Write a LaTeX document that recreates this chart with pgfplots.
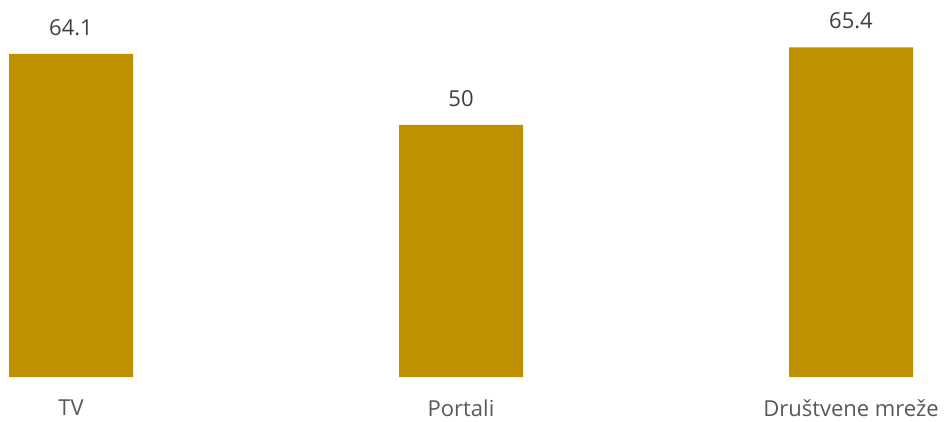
\documentclass[border=0pt]{standalone}
\usepackage{fontspec}
\setmainfont{Open Sans}
\usepackage{pgfplots}
\pgfplotsset{compat=1.18}
\definecolor{bargold}{HTML}{BF9000}
\definecolor{valgray}{HTML}{404040}
\definecolor{catgray}{HTML}{595959}
\begin{document}
\begin{tikzpicture}
\begin{axis}[
    scale only axis,
    width=946bp, height=377bp,
    xmin=0, xmax=946,
    ymin=0, ymax=74.8,
    axis line style={draw=none},
    ytick=\empty,
    xtick=data,
    xticklabels={TV, Portali, Društvene mreže},
    major tick length=0pt,
    /pgf/number format/assume math mode=true,
    x tick label style={font=\fontsize{22bp}{24bp}\selectfont, text=catgray, yshift=-19bp},
    ybar,
    bar width=124bp,
    nodes near coords,
    every node near coord/.append style={font=\fontsize{22bp}{24bp}\selectfont, text=valgray, yshift=15bp},
    clip=false,
]
\addplot[fill=bargold, draw=none] coordinates {(71,64.1) (461,50) (851,65.4)};
\end{axis}
\pgfresetboundingbox
\path (0,-45bp) rectangle (946bp,377bp);
\end{tikzpicture}
\end{document}
